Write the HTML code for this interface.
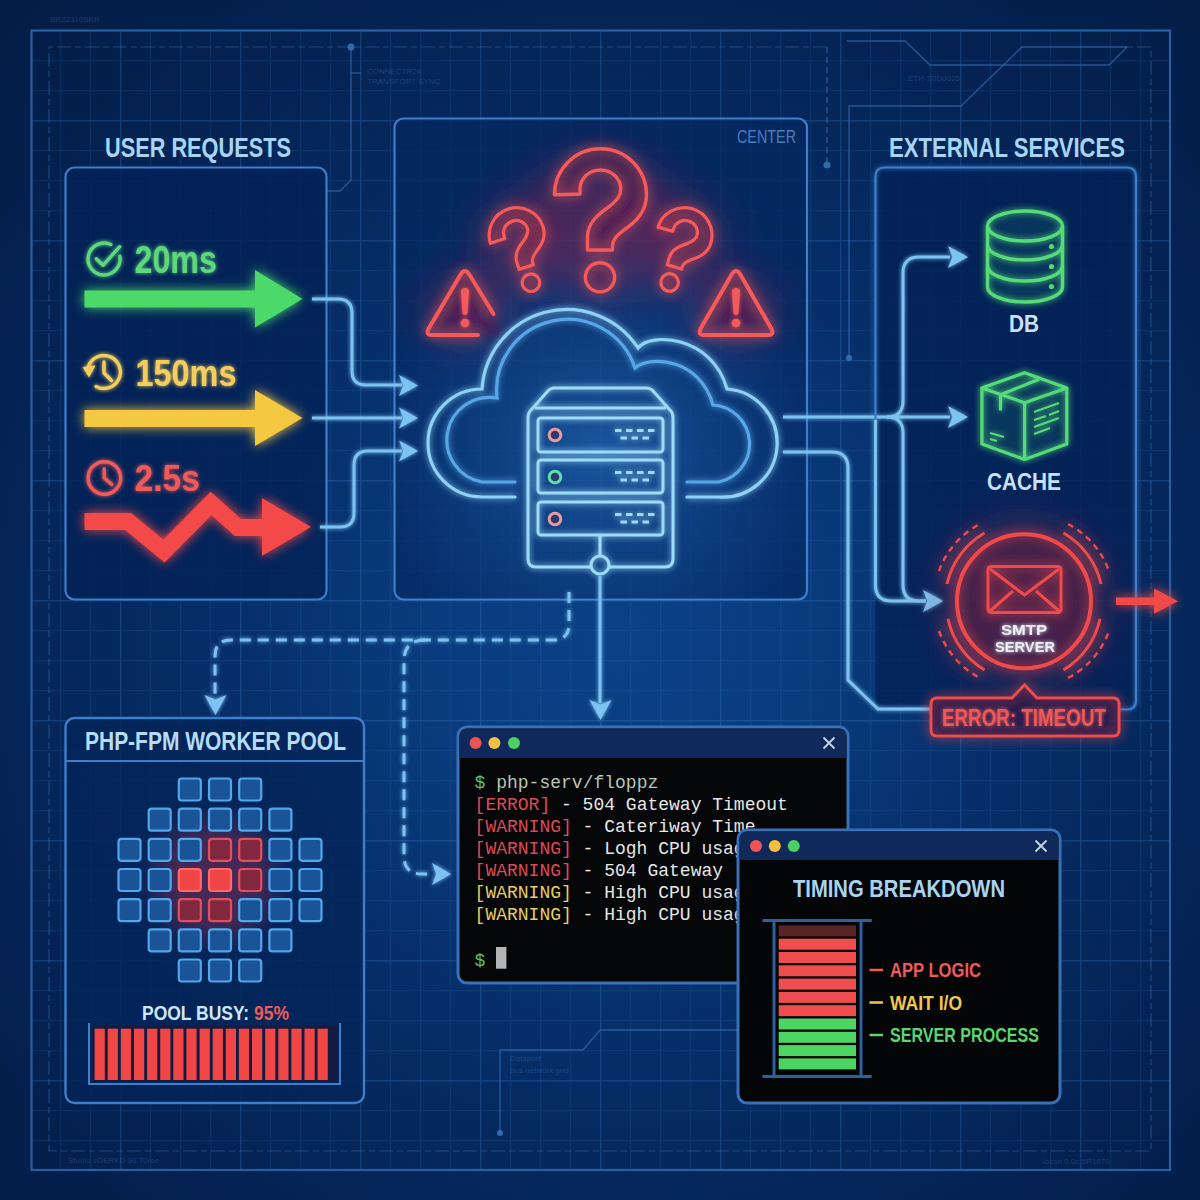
<!DOCTYPE html>
<html><head><meta charset="utf-8">
<style>
html,body{margin:0;padding:0;width:1200px;height:1200px;overflow:hidden;background:#0a2252}
svg{display:block}
text{font-family:"Liberation Sans",sans-serif;}
.mono text,text.mono{font-family:"Liberation Mono",monospace;}
</style></head><body>
<svg width="1200" height="1200" viewBox="0 0 1200 1200">
<defs>
  <radialGradient id="bg" cx="620" cy="640" r="900" gradientUnits="userSpaceOnUse">
    <stop offset="0" stop-color="rgb(10,66,134)"/>
    <stop offset="0.2" stop-color="rgb(9,60,126)"/>
    <stop offset="0.45" stop-color="rgb(6,46,104)"/>
    <stop offset="0.6" stop-color="rgb(5,40,92)"/>
    <stop offset="0.75" stop-color="rgb(4,34,82)"/>
    <stop offset="1" stop-color="rgb(3,28,68)"/>
  </radialGradient>
  <radialGradient id="cglow" cx="600" cy="450" r="230" gradientUnits="userSpaceOnUse">
    <stop offset="0" stop-color="#2a78c8" stop-opacity="0.55"/>
    <stop offset="0.6" stop-color="#1f5fae" stop-opacity="0.25"/>
    <stop offset="1" stop-color="#1f5fae" stop-opacity="0"/>
  </radialGradient>
  <pattern id="grid" x="0" y="0" width="30" height="30" patternUnits="userSpaceOnUse">
    <path d="M0.5 0V30M0 0.5H30" stroke="#3f80d0" stroke-opacity="0.13" stroke-width="1.6" fill="none"/>
  </pattern>
  <pattern id="gridM" x="0" y="0" width="120" height="120" patternUnits="userSpaceOnUse">
    <path d="M0.5 0V120M0 0.5H120" stroke="#4a8ad6" stroke-opacity="0.14" stroke-width="1.8" fill="none"/>
  </pattern>
  <filter id="glow" x="-30%" y="-30%" width="160%" height="160%">
    <feGaussianBlur in="SourceGraphic" stdDeviation="3" result="b"/>
    <feMerge><feMergeNode in="b"/><feMergeNode in="SourceGraphic"/></feMerge>
  </filter>
  <filter id="glow2" x="-40%" y="-40%" width="180%" height="180%">
    <feGaussianBlur in="SourceGraphic" stdDeviation="6" result="b"/>
    <feMerge><feMergeNode in="b"/><feMergeNode in="SourceGraphic"/></feMerge>
  </filter>
  <filter id="soft" x="-30%" y="-30%" width="160%" height="160%">
    <feGaussianBlur in="SourceGraphic" stdDeviation="2" result="b"/>
    <feMerge><feMergeNode in="b"/><feMergeNode in="SourceGraphic"/></feMerge>
  </filter>
  <filter id="blur12"><feGaussianBlur stdDeviation="14"/></filter>
</defs>

<!-- background -->
<rect width="1200" height="1200" fill="url(#bg)"/>
<g>
  <rect x="31" y="30" width="1139" height="1140" fill="url(#grid)"/>
  <rect x="31" y="30" width="1139" height="1140" fill="url(#gridM)"/>
</g>
<rect x="31.5" y="30.5" width="1138.5" height="1139.5" fill="none" stroke="#2a5e9e" stroke-width="2.2"/>
<path d="M827 47H49V1151H1151V47H1127" fill="none" stroke="#3f78bd" stroke-opacity="0.45" stroke-width="1.2" stroke-dasharray="14 4 6 4"/>

<!-- circuit lines -->
<g stroke="#3a74bb" stroke-width="1.4" fill="none" stroke-opacity="0.62">
  <path d="M351 47V180L340 191H327"/>
  <path d="M351 73H361"/>
  <path d="M827 47V165" stroke-dasharray="6 4"/>
  <path d="M847 41H905L930 65H1109L1127 47"/>
  <path d="M849 358V106H961L1022 47H1127"/>
  <path d="M500 1133V1050H583L600 1030H737"/>
</g>
<g fill="#3a74bb" fill-opacity="0.85">
  <circle cx="351" cy="47" r="3.5"/>
  <circle cx="827" cy="165" r="3.5"/>
  <circle cx="849" cy="358" r="3"/>
  <circle cx="500" cy="1133" r="3"/>
</g>
<g fill="#5a8ccc" fill-opacity="0.3" font-size="8">
  <text x="50" y="22">BRZ2110SKR</text>
  <text x="367" y="74">CONNECTR24</text>
  <text x="367" y="84">TRANSPORT SYNC</text>
  <text x="908" y="81">ETH-S0D0025</text>
  <text x="68" y="1163">Studio sOERKD 90.70roe</text>
  <text x="510" y="1061">Dataport</text>
  <text x="510" y="1073">bus network grid</text>
  <text x="1043" y="1164">locon 0.0c 5R1870</text>
</g>

<!-- panels -->
<g stroke="#3f7ecb" stroke-width="2.2">
  <rect x="65.5" y="167.5" width="261" height="432" rx="9" fill="rgb(3,34,86)" fill-opacity="0.8"/>
  <rect x="394.5" y="118.5" width="412.5" height="481" rx="9" fill="rgb(5,40,96)" fill-opacity="0.68"/>
  <rect x="875.5" y="167.5" width="260.5" height="542" rx="9" stroke="none" fill="rgb(3,34,86)" fill-opacity="0.8"/>
</g>
<rect x="395" y="119" width="412" height="480" rx="9" fill="url(#cglow)"/>
<!-- titles -->
<g font-weight="bold" fill="#a9d5f5">
  <text x="105" y="157" font-size="28" textLength="186" lengthAdjust="spacingAndGlyphs">USER REQUESTS</text>
  <text x="889" y="157" font-size="28" textLength="236" lengthAdjust="spacingAndGlyphs">EXTERNAL SERVICES</text>
</g>
<text x="737" y="143" font-size="18" fill="#4c7cb8" textLength="59" lengthAdjust="spacingAndGlyphs">CENTER</text>

<!-- left panel arrows -->
<g filter="url(#glow2)">
  <path d="M84.5 290.5H255V270L302.5 299L255 327.5V307.5H84.5Z" fill="#4cd96b"/>
  <path d="M84.5 410H255V390L302.5 418L255 446V427H84.5Z" fill="#f5c842"/>
  <polyline points="84.5,521.5 128,521.5 164,551 211,503.5 238,527.5 265,527.5" fill="none" stroke="#f34848" stroke-width="17" stroke-linejoin="miter" stroke-miterlimit="4"/>
  <path d="M262 498L311 527L262 556Z" fill="#f34848"/>
</g>
<g font-weight="bold" filter="url(#soft)">
  <text x="134.5" y="272.7" font-size="38" fill="#5fd77c" textLength="82.5" lengthAdjust="spacingAndGlyphs">20ms</text>
  <text x="135.5" y="386" font-size="37" fill="#f4cd5c" textLength="101" lengthAdjust="spacingAndGlyphs">150ms</text>
  <text x="134.5" y="491.4" font-size="37.5" fill="#ef5a5a" textLength="65.5" lengthAdjust="spacingAndGlyphs">2.5s</text>
</g>
<!-- icons -->
<g fill="none" stroke-width="3.4" stroke-linecap="round" stroke-linejoin="round" filter="url(#soft)">
  <g stroke="#5fd77c">
    <path d="M119.8 256.2A16 16 0 1 1 110.8 244.5"/>
    <path d="M96.3 258.7L103 265.3L119.7 246.7"/>
  </g>
  <g stroke="#f4cd5c">
    <path d="M88.5 366A16.5 16.5 0 1 1 96 386.5"/>
    <path d="M104 362V373L111.5 380.5"/>
  </g>
  <path d="M82.5 367L95.5 365.5L89 377.5Z" fill="#f4cd5c" stroke="none"/>
  <g stroke="#ef5a5a">
    <circle cx="104.4" cy="478" r="16.3"/>
    <path d="M104.2 468.7V478L111.8 484.4"/>
  </g>
</g>

<!-- connectors left -> center -->
<g fill="none" stroke="#7cc3f2" stroke-width="3" filter="url(#soft)">
  <path d="M312 299H338Q352 299 352 313V371Q352 385 366 385H402"/>
  <path d="M312 418H402"/>
  <path d="M320 527H340Q354 527 354 513V465Q354 451 368 451H402"/>
</g>
<g fill="#7cc3f2" filter="url(#soft)">
  <path d="M399 375L418 385.5L399 396L403.2 385.5Z"/>
  <path d="M399 407.5L418 418L399 428.5L403.2 418Z"/>
  <path d="M399 440.5L418 451L399 461.5L403.2 451Z"/>
</g>

<!-- question marks & warnings -->
<defs>
  <path id="qm" d="M554.5 194.7A46 46 0 0 1 646.5 194.7C646.5 213 634 223 624 230C616 236 612.5 240 612.5 246V250H587.5V237C587.5 222 600 213 610 206C617 200 620.8 196 620.8 189A20.4 19 0 0 0 580 189V194Z"/>
  <filter id="rhalo" x="-50%" y="-50%" width="200%" height="200%"><feGaussianBlur stdDeviation="22"/></filter>
</defs>
<g filter="url(#rhalo)" fill="#a02850" fill-opacity="0.42">
  <ellipse cx="600" cy="225" rx="80" ry="70"/>
  <ellipse cx="515" cy="245" rx="35" ry="45"/>
  <ellipse cx="685" cy="245" rx="35" ry="45"/>
  <ellipse cx="465" cy="310" rx="35" ry="28" fill-opacity="0.6"/>
  <ellipse cx="736" cy="310" rx="35" ry="28" fill-opacity="0.6"/>
</g>
<g filter="url(#glow2)" fill="#6a1840" fill-opacity="0.16" stroke="#f45a5a" stroke-width="3.4" stroke-linejoin="round">
  <use href="#qm"/>
  <circle cx="600" cy="277.3" r="14.6"/>
  <g transform="translate(521.1 250.4) rotate(-17) scale(0.6) translate(-600 -221)" stroke-width="5.4">
    <use href="#qm"/>
    <circle cx="600" cy="277.3" r="14.6"/>
  </g>
  <g transform="translate(679.5 250.2) rotate(17) scale(0.6) translate(-600 -221)" stroke-width="5.4">
    <use href="#qm"/>
    <circle cx="600" cy="277.3" r="14.6"/>
  </g>
  <path d="M432 335Q425 335 429 328L461 274Q465 268 469 274L500 328Q504 335 497 335Z" stroke="none"/>
  <path d="M478 335H432Q425 335 429 328L461 274Q465 268 469 274L493.5 314" fill="none" stroke-width="4" stroke-linecap="round"/>
  <path d="M740 335H768Q775 335 771 328L740 274Q736 268 732 274L701 328Q697 335 704 335Z" stroke-width="4"/>
</g>
<g fill="#f45a5a" filter="url(#soft)">
  <path d="M461 292Q461 288 465 288Q469 288 469 292L467.3 314Q465 316 462.7 314Z"/>
  <circle cx="465" cy="323" r="4.3"/>
  <path d="M732 292Q732 288 736 288Q740 288 740 292L738.3 314Q736 316 733.7 314Z"/>
  <circle cx="736" cy="323" r="4.3"/>
</g>

<!-- cloud -->
<g fill="none" stroke-width="3.2" stroke-linecap="round" filter="url(#glow)">
  <path d="M515 497H482A54 54 0 0 1 482 389A85 85 0 0 1 638 348C650 332 712 335 727 389A54 54 0 0 1 719 497H687" stroke="#8fd2f7"/>
  <path d="M515 482H482A40 40 0 0 1 497 398A71 71 0 0 1 635 368C650 355 700 358 713 405A39 39 0 0 1 719 482H687" stroke="#58a6e6"/>
</g>
<!-- server -->
<g fill="none" stroke="#9cdcf9" stroke-width="3" stroke-linejoin="round" filter="url(#glow)">
  <path d="M591 567H536Q528 567 528 559V418Q528 412 532 409L547 392Q550 388 555 388H646Q651 388 654 392L669 409Q673 412 673 418V559Q673 567 665 567H609"/>
  <path d="M535 408H666"/>
  <rect x="538" y="418" width="125" height="34" rx="3"/>
  <rect x="538" y="460" width="125" height="33" rx="3"/>
  <rect x="538" y="502" width="125" height="33" rx="3"/>
  <path d="M600 535V556"/>
  <circle cx="600" cy="565" r="9"/>
  <g stroke-width="3" stroke-linecap="butt">
    <path d="M615 430.5H621.5M626 430.5H632.5M637 430.5H643.5M648 430.5H654.5M620.5 438H627.0M631.5 438H638.0M642.5 438H649.0"/>
    <path d="M615 472.5H621.5M626 472.5H632.5M637 472.5H643.5M648 472.5H654.5M620.5 480H627.0M631.5 480H638.0M642.5 480H649.0"/>
    <path d="M615 514.5H621.5M626 514.5H632.5M637 514.5H643.5M648 514.5H654.5M620.5 522H627.0M631.5 522H638.0M642.5 522H649.0"/>
  </g>
</g>
<g fill="#2c3a6c" stroke-width="3">
  <circle cx="555" cy="435" r="5.8" stroke="#e89aa0"/>
  <circle cx="555" cy="477" r="5.8" stroke="#5fdcb0"/>
  <circle cx="555" cy="519" r="5.8" stroke="#e89aa0"/>
</g>

<!-- connectors center -> external -->
<g fill="none" stroke="#7cc3f2" stroke-width="3" filter="url(#soft)">
  <path d="M783 417H887Q903 417 903 401V273Q903 257 919 257H950"/>
  <path d="M887 417H950"/>
  <path d="M887 417Q903 417 903 433V585Q903 601 919 601H926"/>
  <path d="M783 452H832Q848 452 848 468V680L878 709H931"/>
  <path d="M875.5 585V176.5Q875.5 167.5 884.5 167.5H1127Q1136 167.5 1136 176.5V700.5Q1136 709.5 1127 709.5H1119" stroke="#3f7ecb" stroke-width="2.2" filter="none"/>
  <path d="M875.5 420V585Q875.5 601 891.5 601H926"/>
  <path d="M600 576V703"/>
</g>
<g fill="#7cc3f2" filter="url(#soft)">
  <path d="M948 246L968 257L948 268L952.4 257Z"/>
  <path d="M948 406L968 417L948 428L952.4 417Z"/>
  <path d="M923 590L943 601L923 612L927.4 601Z"/>
  <path d="M589.5 700L600.5 720L611.5 700L600.5 704.4Z"/>
</g>
<g fill="none" stroke="#7cc3f2" stroke-width="3" stroke-dasharray="11 7" filter="url(#soft)">
  <path d="M569 592V624Q569 640 553 640H231Q215 640 215 656V697"/>
  <path d="M425 640Q404 640 404 661V856Q404 874 422 874H434"/>
</g>
<g fill="#7cc3f2" filter="url(#soft)">
  <path d="M204.5 695L215.5 715L226.5 695L215.5 699.4Z"/>
  <path d="M432 863L451 874L432 885L436.2 874Z"/>
</g>

<!-- DB icon -->
<path d="M987.5 226A37.5 15 0 0 1 1062.5 226V287A37.5 15 0 0 1 987.5 287Z" fill="#1a7a70" fill-opacity="0.22"/>
<g fill="none" stroke="#55dc78" stroke-width="3.4" filter="url(#glow)">
  <ellipse cx="1025" cy="226" rx="37.5" ry="15"/>
  <path d="M987.5 226V287A37.5 15 0 0 0 1062.5 287V226"/>
  <path d="M987.5 245A37.5 15 0 0 0 1062.5 245"/>
  <path d="M987.5 266A37.5 15 0 0 0 1062.5 266"/>
</g>
<g fill="#4fdc6c">
  <circle cx="1051.5" cy="246.5" r="2.6"/>
  <circle cx="1051.5" cy="266.5" r="2.6"/>
  <circle cx="1051.5" cy="286.5" r="2.6"/>
</g>
<!-- cache icon -->
<path d="M1024.6 372.8L981.9 388V444L1024.6 459.5L1066.8 444V388Z" fill="#1a7a70" fill-opacity="0.22"/>
<g fill="none" stroke="#55dc78" stroke-width="3.2" stroke-linejoin="round" filter="url(#glow)">
  <path d="M1024.6 372.8L981.9 388L1024.6 402.7L1066.8 388Z"/>
  <path d="M981.9 388V444L1024.6 459.5L1066.8 444V388M1024.6 402.7V459.5"/>
  <path d="M1039 379.3L1000.5 394.7V410.5"/>
  <g stroke-width="2">
    <path d="M1034 412L1059 403M1034 420L1046 416M1049 415L1059 411M1034 427L1059 418M1034 434L1050 428"/>
    <path d="M990 433L1004 437M990 439L997 441"/>
  </g>
</g>
<g font-weight="bold" fill="#c9e2f7">
  <text x="1009" y="331.7" font-size="23" textLength="30" lengthAdjust="spacingAndGlyphs">DB</text>
  <text x="987" y="490" font-size="24" textLength="74" lengthAdjust="spacingAndGlyphs">CACHE</text>
</g>

<!-- SMTP -->
<circle cx="1024" cy="601" r="80" fill="#c02848" fill-opacity="0.32" filter="url(#rhalo)"/>
<circle cx="1024" cy="601.3" r="66" fill="#5a1838" fill-opacity="0.35"/>
<g fill="none" stroke="#f04a4a" filter="url(#glow2)">
  <circle cx="1024" cy="601.3" r="67" stroke-width="4"/>
  <g stroke-width="3">
    <path d="M947 584A79 79 0 0 1 984.5 533"/>
    <path d="M1063.5 533A79 79 0 0 1 1101 584"/>
    <path d="M948 618.7A79 79 0 0 0 984.5 670"/>
    <path d="M1063.5 670A79 79 0 0 0 1100 618.7"/>
  </g>
  <g stroke-width="2.4" stroke-dasharray="6 5">
    <path d="M939 571A86 86 0 0 1 980 524"/>
    <path d="M1068 524A86 86 0 0 1 1109 571"/>
    <path d="M939 631A86 86 0 0 0 980 678"/>
    <path d="M1068 678A86 86 0 0 0 1109 631"/>
  </g>
  <g stroke-width="3" stroke-linejoin="round">
    <rect x="988" y="566.5" width="73" height="46" rx="3"/>
    <path d="M990 569L1024.5 595L1059 569M990 611L1013 591M1059 611L1036 591"/>
  </g>
</g>
<g font-weight="bold" fill="#eef2f8" filter="url(#soft)">
  <text x="1001" y="634.6" font-size="15.5" textLength="46" lengthAdjust="spacingAndGlyphs">SMTP</text>
  <text x="995" y="652" font-size="15.5" textLength="60" lengthAdjust="spacingAndGlyphs">SERVER</text>
</g>
<g fill="#f04a4a" filter="url(#glow2)">
  <path d="M1116 597.5H1154V588.6L1178 601.3L1154 613.8V605H1116Z"/>
</g>
<!-- error label -->
<g filter="url(#glow2)">
  <path d="M937 698H1012L1024.5 685L1037 698H1113Q1119 698 1119 704V730Q1119 736 1113 736H937Q931 736 931 730V704Q931 698 937 698Z" fill="#2a1a4a" fill-opacity="0.6" stroke="#ef4b4b" stroke-width="3"/>
</g>
<text x="942" y="725.5" font-size="23" font-weight="bold" fill="#f05858" textLength="164" lengthAdjust="spacingAndGlyphs" filter="url(#soft)">ERROR: TIMEOUT</text>

<!-- pool panel -->
<rect x="65.5" y="718" width="298.5" height="385" rx="9" fill="rgb(4,36,88)" fill-opacity="0.8" stroke="#3f7ecb" stroke-width="2.4"/>
<path d="M66 761H363" stroke="#3f7ecb" stroke-width="2.2"/>
<text x="85" y="749.5" font-size="26" font-weight="bold" fill="#b6dcf8" textLength="261" lengthAdjust="spacingAndGlyphs">PHP-FPM WORKER POOL</text>
<circle cx="215" cy="880" r="60" fill="#e03048" fill-opacity="0.3" filter="url(#blur12)"/>
<g id="pool" stroke-width="2.2">
<rect x="178.8" y="778.5" width="22" height="22" rx="3" fill="#1b5496" stroke="#52a6ec"/>
<rect x="209.0" y="778.5" width="22" height="22" rx="3" fill="#1b5496" stroke="#52a6ec"/>
<rect x="239.2" y="778.5" width="22" height="22" rx="3" fill="#1b5496" stroke="#52a6ec"/>
<rect x="148.7" y="808.7" width="22" height="22" rx="3" fill="#1b5496" stroke="#52a6ec"/>
<rect x="178.8" y="808.7" width="22" height="22" rx="3" fill="#1b5496" stroke="#52a6ec"/>
<rect x="209.0" y="808.7" width="22" height="22" rx="3" fill="#1b5496" stroke="#52a6ec"/>
<rect x="239.2" y="808.7" width="22" height="22" rx="3" fill="#1b5496" stroke="#52a6ec"/>
<rect x="269.4" y="808.7" width="22" height="22" rx="3" fill="#1b5496" stroke="#52a6ec"/>
<rect x="118.5" y="838.8" width="22" height="22" rx="3" fill="#1b5496" stroke="#52a6ec"/>
<rect x="148.7" y="838.8" width="22" height="22" rx="3" fill="#1b5496" stroke="#52a6ec"/>
<rect x="178.8" y="838.8" width="22" height="22" rx="3" fill="#1b5496" stroke="#52a6ec"/>
<rect x="209.0" y="838.8" width="22" height="22" rx="3" fill="#82283e" stroke="#e0505c"/>
<rect x="239.2" y="838.8" width="22" height="22" rx="3" fill="#82283e" stroke="#e0505c"/>
<rect x="269.4" y="838.8" width="22" height="22" rx="3" fill="#1b5496" stroke="#52a6ec"/>
<rect x="299.5" y="838.8" width="22" height="22" rx="3" fill="#1b5496" stroke="#52a6ec"/>
<rect x="118.5" y="869.0" width="22" height="22" rx="3" fill="#1b5496" stroke="#52a6ec"/>
<rect x="148.7" y="869.0" width="22" height="22" rx="3" fill="#1b5496" stroke="#52a6ec"/>
<rect x="178.8" y="869.0" width="22" height="22" rx="3" fill="#f04545" stroke="#ff6a6a"/>
<rect x="209.0" y="869.0" width="22" height="22" rx="3" fill="#f04545" stroke="#ff6a6a"/>
<rect x="239.2" y="869.0" width="22" height="22" rx="3" fill="#82283e" stroke="#e0505c"/>
<rect x="269.4" y="869.0" width="22" height="22" rx="3" fill="#1b5496" stroke="#52a6ec"/>
<rect x="299.5" y="869.0" width="22" height="22" rx="3" fill="#1b5496" stroke="#52a6ec"/>
<rect x="118.5" y="899.2" width="22" height="22" rx="3" fill="#1b5496" stroke="#52a6ec"/>
<rect x="148.7" y="899.2" width="22" height="22" rx="3" fill="#1b5496" stroke="#52a6ec"/>
<rect x="178.8" y="899.2" width="22" height="22" rx="3" fill="#82283e" stroke="#e0505c"/>
<rect x="209.0" y="899.2" width="22" height="22" rx="3" fill="#82283e" stroke="#e0505c"/>
<rect x="239.2" y="899.2" width="22" height="22" rx="3" fill="#1b5496" stroke="#52a6ec"/>
<rect x="269.4" y="899.2" width="22" height="22" rx="3" fill="#1b5496" stroke="#52a6ec"/>
<rect x="299.5" y="899.2" width="22" height="22" rx="3" fill="#1b5496" stroke="#52a6ec"/>
<rect x="148.7" y="929.4" width="22" height="22" rx="3" fill="#1b5496" stroke="#52a6ec"/>
<rect x="178.8" y="929.4" width="22" height="22" rx="3" fill="#1b5496" stroke="#52a6ec"/>
<rect x="209.0" y="929.4" width="22" height="22" rx="3" fill="#1b5496" stroke="#52a6ec"/>
<rect x="239.2" y="929.4" width="22" height="22" rx="3" fill="#1b5496" stroke="#52a6ec"/>
<rect x="269.4" y="929.4" width="22" height="22" rx="3" fill="#1b5496" stroke="#52a6ec"/>
<rect x="178.8" y="959.5" width="22" height="22" rx="3" fill="#1b5496" stroke="#52a6ec"/>
<rect x="209.0" y="959.5" width="22" height="22" rx="3" fill="#1b5496" stroke="#52a6ec"/>
<rect x="239.2" y="959.5" width="22" height="22" rx="3" fill="#1b5496" stroke="#52a6ec"/>
</g>
<text x="142" y="1020" font-size="20" font-weight="bold" fill="#cfe6fa" textLength="147" lengthAdjust="spacingAndGlyphs">POOL BUSY: <tspan fill="#f05a5a">95%</tspan></text>
<path d="M89 1023V1084H340V1023" fill="none" stroke="#3f7ecb" stroke-width="2"/>
<rect x="92" y="1026" width="246" height="56" fill="#161a3c" fill-opacity="0.85"/>
<g><rect x="94.6" y="1028.7" width="10.2" height="51.3" fill="#f04646"/><rect x="107.7" y="1028.7" width="10.2" height="51.3" fill="#f04646"/><rect x="120.8" y="1028.7" width="10.2" height="51.3" fill="#f04646"/><rect x="134.0" y="1028.7" width="10.2" height="51.3" fill="#f04646"/><rect x="147.1" y="1028.7" width="10.2" height="51.3" fill="#f04646"/><rect x="160.2" y="1028.7" width="10.2" height="51.3" fill="#f04646"/><rect x="173.3" y="1028.7" width="10.2" height="51.3" fill="#f04646"/><rect x="186.4" y="1028.7" width="10.2" height="51.3" fill="#f04646"/><rect x="199.6" y="1028.7" width="10.2" height="51.3" fill="#f04646"/><rect x="212.7" y="1028.7" width="10.2" height="51.3" fill="#f04646"/><rect x="225.8" y="1028.7" width="10.2" height="51.3" fill="#f04646"/><rect x="238.9" y="1028.7" width="10.2" height="51.3" fill="#f04646"/><rect x="252.0" y="1028.7" width="10.2" height="51.3" fill="#f04646"/><rect x="265.2" y="1028.7" width="10.2" height="51.3" fill="#f04646"/><rect x="278.3" y="1028.7" width="10.2" height="51.3" fill="#f04646"/><rect x="291.4" y="1028.7" width="10.2" height="51.3" fill="#f04646"/><rect x="304.5" y="1028.7" width="10.2" height="51.3" fill="#f04646"/><rect x="317.6" y="1028.7" width="10.2" height="51.3" fill="#f04646"/></g>
<!-- terminal -->
<g>
  <rect x="458" y="727" width="390" height="256" rx="9" fill="#050607" stroke="#3a70b8" stroke-width="3"/>
  <path d="M459.5 758V736Q459.5 728.5 467 728.5H839Q846.5 728.5 846.5 736V758Z" fill="#0f2a5a"/>
  <circle cx="475.6" cy="743" r="6" fill="#ef5454"/>
  <circle cx="494.4" cy="743" r="6" fill="#f3c043"/>
  <circle cx="514" cy="743" r="6" fill="#4cd264"/>
  <path d="M823.5 737.5L834.5 748.5M834.5 737.5L823.5 748.5" stroke="#c8d4e4" stroke-width="1.8"/>
</g>
<g class="mono" font-size="18" fill="#e6e6e6">
  <text x="474.6" y="787.8"><tspan fill="#5fc06a">$</tspan> <tspan fill="#b7c7b5">php-serv/floppz</tspan></text>
  <text x="474.6" y="809.8"><tspan fill="#de4a54">[ERROR]</tspan> - 504 Gateway Timeout</text>
  <text x="474.6" y="831.8"><tspan fill="#de4a54">[WARNING]</tspan> - Cateriway Time</text>
  <text x="474.6" y="853.8"><tspan fill="#de4a54">[WARNING]</tspan> - Logh CPU usage</text>
  <text x="474.6" y="875.8"><tspan fill="#de4a54">[WARNING]</tspan> - 504 Gateway</text>
  <text x="474.6" y="897.8"><tspan fill="#e6cc62">[WARNING]</tspan> - High CPU usage</text>
  <text x="474.6" y="919.8"><tspan fill="#e6cc62">[WARNING]</tspan> - High CPU usage</text>
  <text x="474.6" y="966" fill="#5fc06a">$</text>
</g>
<rect x="496" y="947" width="10.4" height="21.7" fill="#b4b4b4"/>

<!-- timing window -->
<g>
  <rect x="738" y="830" width="322" height="273" rx="9" fill="#040506" stroke="#3a70b8" stroke-width="3"/>
  <path d="M739.5 860V839Q739.5 831.5 747 831.5H1051Q1058.5 831.5 1058.5 839V860Z" fill="#0f2a5a"/>
  <circle cx="756" cy="846" r="6" fill="#ef5454"/>
  <circle cx="774.8" cy="846" r="6" fill="#f3c043"/>
  <circle cx="793.8" cy="846" r="6" fill="#4cd264"/>
  <path d="M1035.5 840.5L1046.5 851.5M1046.5 840.5L1035.5 851.5" stroke="#c8d4e4" stroke-width="1.8"/>
</g>
<text x="793" y="896.5" font-size="23.5" font-weight="bold" fill="#a9d3f2" textLength="212" lengthAdjust="spacingAndGlyphs">TIMING BREAKDOWN</text>
<path d="M762.5 920.6H871.7M762.5 1076.4H871.7M774 920.6V1076.4M861 920.6V1076.4" stroke="#2f5f9f" stroke-width="3" fill="none"/>
<rect x="778.7" y="925.4" width="77.3" height="11" fill="#5a2424"/>
<rect x="778.7" y="938.7" width="77.3" height="11" fill="#f04e4e"/>
<rect x="778.7" y="952.0" width="77.3" height="11" fill="#f04e4e"/>
<rect x="778.7" y="965.3" width="77.3" height="11" fill="#f04e4e"/>
<rect x="778.7" y="978.6" width="77.3" height="11" fill="#f04e4e"/>
<rect x="778.7" y="991.9" width="77.3" height="11" fill="#f04e4e"/>
<rect x="778.7" y="1005.2" width="77.3" height="11" fill="#f04e4e"/>
<rect x="778.7" y="1018.5" width="77.3" height="11" fill="#4ed462"/>
<rect x="778.7" y="1031.8" width="77.3" height="11" fill="#4ed462"/>
<rect x="778.7" y="1045.1" width="77.3" height="11" fill="#4ed462"/>
<rect x="778.7" y="1058.4" width="77.3" height="11" fill="#4ed462"/>
<g font-weight="bold" font-size="20">
  <path d="M869.5 970H883" stroke="#f05a5a" stroke-width="2.5"/>
  <text x="890" y="977.3" fill="#f05a5a" textLength="91" lengthAdjust="spacingAndGlyphs">APP LOGIC</text>
  <path d="M869.5 1002.5H883" stroke="#f0c850" stroke-width="2.5"/>
  <text x="890" y="1009.8" fill="#f0c850" textLength="72" lengthAdjust="spacingAndGlyphs">WAIT I/O</text>
  <path d="M869.5 1035H883" stroke="#5ad46e" stroke-width="2.5"/>
  <text x="890" y="1042.4" fill="#5ad46e" textLength="149" lengthAdjust="spacingAndGlyphs">SERVER PROCESS</text>
</g>

<!--CONTENT-->

</svg>
</body></html>
